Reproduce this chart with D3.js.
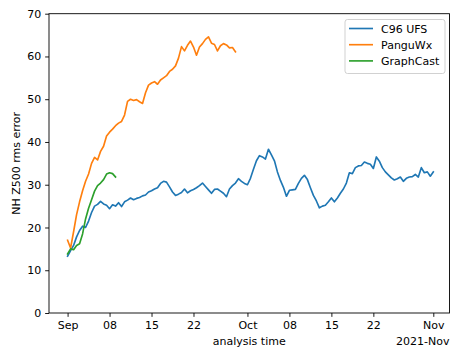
<!DOCTYPE html>
<html>
<head>
<meta charset="utf-8">
<script src="https://cdn.jsdelivr.net/npm/d3@7"></script>
<style>
  html, body { margin: 0; padding: 0; background: #fff; }
  svg { display: block; font-family: "DejaVu Sans", sans-serif; }
</style>
</head>
<body>
<svg id="chart" width="452" height="347"></svg>
<script>
// 12-hourly NH Z500 RMS error, starting 2021-09-01 00Z
const seriesNames = ["C96 UFS", "PanguWx", "GraphCast"];
const seriesColors = ["#1f77b4", "#ff7f0e", "#2ca02c"];

const c96Ufs = [
  13.3, 14.6, 15.8, 17.8, 19.3, 20.3, 20.0, 21.5, 23.5, 25.0,
  25.4, 26.1, 25.5, 25.2, 24.4, 25.3, 25.0, 25.8, 24.9, 26.0,
  26.4, 26.9, 26.5, 26.8, 27.0, 27.4, 27.6, 28.3, 28.6, 29.0,
  29.3, 30.3, 30.8, 30.6, 29.5, 28.3, 27.5, 27.8, 28.2, 29.0,
  28.1, 28.6, 28.9, 29.3, 29.8, 30.4, 29.6, 28.8, 28.0, 28.9,
  29.0, 28.5, 28.0, 27.2, 29.0, 29.8, 30.4, 31.4, 30.8, 30.3,
  30.0, 31.5, 33.6, 35.6, 36.8, 36.5, 36.0, 38.3, 37.0, 35.6,
  33.0, 31.0, 29.4, 27.3, 28.7, 28.8, 28.9, 30.3, 31.5, 32.2,
  31.2, 29.3, 27.5, 26.2, 24.6, 25.0, 25.2, 26.0, 26.9, 26.0,
  26.9, 28.0, 29.0, 30.4, 32.8, 32.6, 34.0, 34.4, 34.5, 35.3,
  35.0, 34.8, 33.8, 36.5, 35.5, 34.0, 33.0, 32.3, 31.6, 31.1,
  31.4, 31.8, 30.8, 31.5, 31.8, 31.9, 32.4, 31.8, 34.0, 32.8,
  33.0, 32.0, 33.0
];

const panguWx = [
  17.0, 15.2, 19.0, 23.0, 26.0, 28.6, 30.8, 32.5, 35.0, 36.4,
  35.8, 37.8, 39.0, 41.4, 42.3, 43.0, 43.8, 44.4, 44.8, 46.3,
  49.5, 50.0, 49.7, 49.9, 49.4, 49.0, 51.5, 53.3, 53.8, 54.1,
  53.5, 54.5, 55.0, 55.5, 56.5, 57.0, 57.8, 59.6, 62.3, 61.3,
  62.6, 63.6, 62.2, 60.3, 62.2, 63.0, 64.0, 64.6, 63.1, 62.8,
  61.3, 62.5, 63.0, 62.7, 62.0, 62.1, 61.1
];

const graphCast = [
  13.8, 15.0, 14.8, 15.8, 16.2, 18.5, 22.0, 24.5, 26.5, 28.5,
  29.8, 30.4, 31.2, 32.5, 32.8, 32.6, 31.8
];

const yTicks = [0, 10, 20, 30, 40, 50, 60, 70];
const xTickDates = ["2021-09-01", "2021-09-08", "2021-09-15", "2021-09-22",
                    "2021-10-01", "2021-10-08", "2021-10-15", "2021-10-22", "2021-11-01"];
const xTickLabels = ["Sep", "08", "15", "22", "Oct", "08", "15", "22", "Nov"];

const startTime = Date.UTC(2021, 8, 1);
const stepMs = 12 * 3600 * 1000;
const dayMs = 24 * 3600 * 1000;

const toPoints = vals => vals.map((v, i) => ({ t: new Date(startTime + i * stepMs), v }));
const allSeries = [c96Ufs, panguWx, graphCast].map(toPoints);

const svg = d3.select("#chart");
const plot = { left: 49, right: 449.5, top: 13.7, bottom: 313 };
const fontPx = 11;
const tickLen = 3.85;

const x = d3.scaleUtc()
  .domain([new Date(startTime - 3.1 * dayMs), new Date(startTime + 63.7 * dayMs)])
  .range([plot.left, plot.right]);
const y = d3.scaleLinear().domain([0, 70]).range([plot.bottom, plot.top]);

// Lines
const line = d3.line().x(d => x(d.t)).y(d => y(d.v));
const g = svg.append("g");
allSeries.forEach((pts, i) => {
  g.append("path")
    .datum(pts)
    .attr("fill", "none")
    .attr("stroke", seriesColors[i])
    .attr("stroke-width", 1.65)
    .attr("stroke-linejoin", "round")
    .attr("stroke-linecap", "square")
    .attr("d", line);
});

// Axes
const xAxis = d3.axisBottom(x)
  .tickValues(xTickDates.map(s => new Date(s + "T00:00:00Z")))
  .tickFormat((d, i) => xTickLabels[i])
  .tickSizeOuter(0).tickSize(tickLen).tickPadding(4.6);
const yAxis = d3.axisLeft(y)
  .tickValues(yTicks)
  .tickSizeOuter(0).tickSize(tickLen).tickPadding(3.85);

const gx = svg.append("g").attr("transform", `translate(0,${plot.bottom})`).call(xAxis);
const gy = svg.append("g").attr("transform", `translate(${plot.left},0)`).call(yAxis);
[gx, gy].forEach(ax => {
  ax.select(".domain").remove();
  ax.selectAll(".tick line").attr("stroke", "#000").attr("stroke-width", 0.9);
  ax.selectAll(".tick text").attr("fill", "#000")
    .style("font-family", "DejaVu Sans").style("font-size", fontPx + "px");
});

// Frame
svg.append("rect")
  .attr("x", plot.left).attr("y", plot.top)
  .attr("width", plot.right - plot.left).attr("height", plot.bottom - plot.top)
  .attr("fill", "none").attr("stroke", "#000").attr("stroke-width", 0.9);

// Axis titles
svg.append("text")
  .attr("x", (plot.left + plot.right) / 2).attr("y", 345.3)
  .attr("text-anchor", "middle").attr("font-size", fontPx).attr("fill", "#000")
  .text("analysis time");
svg.append("text")
  .attr("x", plot.right).attr("y", 345.3)
  .attr("text-anchor", "end").attr("font-size", fontPx).attr("fill", "#000")
  .text("2021-Nov");
svg.append("text")
  .attr("transform", `translate(20,${(plot.top + plot.bottom) / 2}) rotate(-90)`)
  .attr("text-anchor", "middle").attr("font-size", fontPx).attr("fill", "#000")
  .text("NH Z500 rms error");

// Legend
const lg = svg.append("g").attr("transform", "translate(345,19.5)");
lg.append("rect")
  .attr("width", 100).attr("height", 54).attr("rx", 2.5)
  .attr("fill", "#fff").attr("fill-opacity", 0.8)
  .attr("stroke", "#cccccc").attr("stroke-width", 0.9);
seriesNames.forEach((name, i) => {
  const ry = 9 + i * 16.2;
  lg.append("line")
    .attr("x1", 4).attr("x2", 28).attr("y1", ry).attr("y2", ry)
    .attr("stroke", seriesColors[i]).attr("stroke-width", 1.65);
  lg.append("text")
    .attr("x", 36).attr("y", ry + 4)
    .attr("font-size", fontPx).attr("fill", "#000")
    .text(name);
});
</script>
</body>
</html>
